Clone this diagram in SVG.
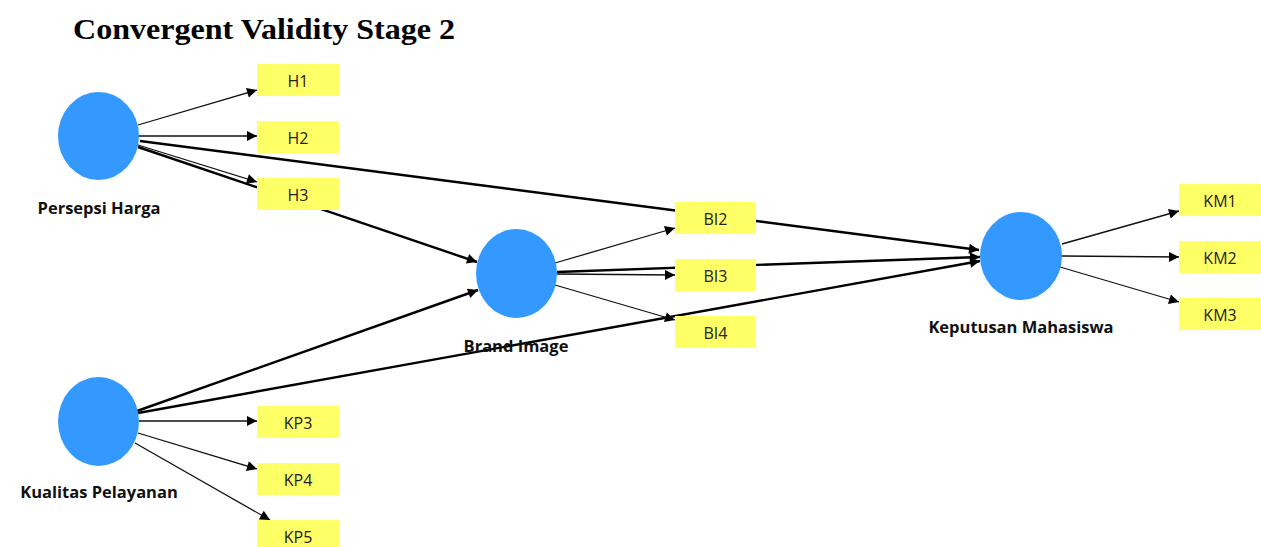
<svg xmlns="http://www.w3.org/2000/svg" width="1261" height="547" viewBox="0 0 1261 547">
  <defs>
    <marker id="arrow" viewBox="0 0 10 10" refX="10" refY="5" markerWidth="14" markerHeight="10" markerUnits="userSpaceOnUse" orient="auto">
      <path d="M0,0 L10,5 L0,10 Z" fill="#000"/>
    </marker>
    <style>
      .title { font-family: "Liberation Serif", "Times New Roman", serif; font-weight: bold; font-size: 30px; fill: #000; }
      .lv { fill: #3399ff; }
      .lvlabel { font-family: "Open Sans", "Noto Sans", sans-serif; font-weight: bold; font-size: 16.5px; fill: #111; text-anchor: middle; }
      .mv rect { fill: #ffff66; }
      .mv text { font-family: "Open Sans", "Noto Sans", sans-serif; font-size: 16px; fill: #222; text-anchor: middle; }
      .thin { stroke: #111; stroke-width: 1.3; fill: none; marker-end: url(#arrow); }
      .thick { stroke: #000; stroke-width: 2.4; fill: none; marker-end: url(#arrow); }
    </style>
  </defs>

  <rect width="1261" height="547" fill="#fff"/>

  <text class="title" x="73" y="39" textLength="382" lengthAdjust="spacingAndGlyphs">Convergent Validity Stage 2</text>

  <!-- connectors (drawn under the indicator boxes) -->
  <g id="connectors">
    <!-- Persepsi Harga indicators -->
    <line class="thin" x1="138" y1="125" x2="257" y2="90"/>
    <line class="thin" x1="139" y1="136" x2="257" y2="136"/>
    <line class="thin" x1="138" y1="145" x2="257" y2="182"/>
    <!-- structural paths -->
    <line class="thick" x1="140" y1="141" x2="979" y2="250"/>
    <line class="thick" x1="138" y1="147" x2="477" y2="262"/>
    <line class="thick" x1="137" y1="411" x2="478" y2="290"/>
    <line class="thick" x1="138" y1="413" x2="980" y2="261"/>
    <line class="thick" x1="557" y1="272" x2="980" y2="257"/>
    <!-- Brand Image indicators -->
    <line class="thin" x1="555" y1="263" x2="675" y2="228"/>
    <line class="thin" x1="557" y1="274" x2="675" y2="275"/>
    <line class="thin" x1="555" y1="285" x2="675" y2="320"/>
    <!-- Kualitas Pelayanan indicators -->
    <line class="thin" x1="139" y1="421" x2="257" y2="421"/>
    <line class="thin" x1="138" y1="433" x2="257" y2="469"/>
    <line class="thin" x1="135" y1="443" x2="270" y2="520"/>
    <!-- Keputusan Mahasiswa indicators -->
    <line class="thin" x1="1062" y1="244" x2="1179" y2="211"/>
    <line class="thin" x1="1062" y1="256" x2="1179" y2="257"/>
    <line class="thin" x1="1060" y1="267" x2="1179" y2="302"/>
  </g>

  <!-- latent variables -->
  <g id="persepsi-harga">
    <ellipse class="lv" cx="98.5" cy="136" rx="40.5" ry="44"/>
    <text class="lvlabel" x="99" y="214">Persepsi Harga</text>
  </g>
  <g id="kualitas-pelayanan">
    <ellipse class="lv" cx="98.5" cy="421.5" rx="40.5" ry="44.5"/>
    <text class="lvlabel" x="99" y="498">Kualitas Pelayanan</text>
  </g>
  <g id="brand-image">
    <ellipse class="lv" cx="516.5" cy="273.5" rx="40.5" ry="44.5"/>
    <text class="lvlabel" x="516" y="352">Brand Image</text>
  </g>
  <g id="keputusan-mahasiswa">
    <ellipse class="lv" cx="1021" cy="256" rx="41" ry="44"/>
    <text class="lvlabel" x="1021" y="333">Keputusan Mahasiswa</text>
  </g>

  <!-- indicators -->
  <g id="H1" class="mv"><rect x="257" y="64" width="82" height="32"/><text x="298" y="87">H1</text></g>
  <g id="H2" class="mv"><rect x="257" y="121" width="82" height="32"/><text x="298" y="144">H2</text></g>
  <g id="H3" class="mv"><rect x="257" y="178" width="82" height="32"/><text x="298" y="201">H3</text></g>

  <g id="KP3" class="mv"><rect x="257" y="406" width="82" height="32"/><text x="298" y="429">KP3</text></g>
  <g id="KP4" class="mv"><rect x="257" y="463" width="82" height="32"/><text x="298" y="486">KP4</text></g>
  <g id="KP5" class="mv"><rect x="257" y="520" width="82" height="32"/><text x="298" y="543">KP5</text></g>

  <g id="BI2" class="mv"><rect x="675" y="202" width="81" height="32"/><text x="715.5" y="225">BI2</text></g>
  <g id="BI3" class="mv"><rect x="675" y="259" width="81" height="32"/><text x="715.5" y="282">BI3</text></g>
  <g id="BI4" class="mv"><rect x="675" y="316" width="81" height="32"/><text x="715.5" y="339">BI4</text></g>

  <g id="KM1" class="mv"><rect x="1179" y="184" width="82" height="32"/><text x="1220" y="207">KM1</text></g>
  <g id="KM2" class="mv"><rect x="1179" y="241" width="82" height="32"/><text x="1220" y="264">KM2</text></g>
  <g id="KM3" class="mv"><rect x="1179" y="298" width="82" height="32"/><text x="1220" y="321">KM3</text></g>
</svg>
